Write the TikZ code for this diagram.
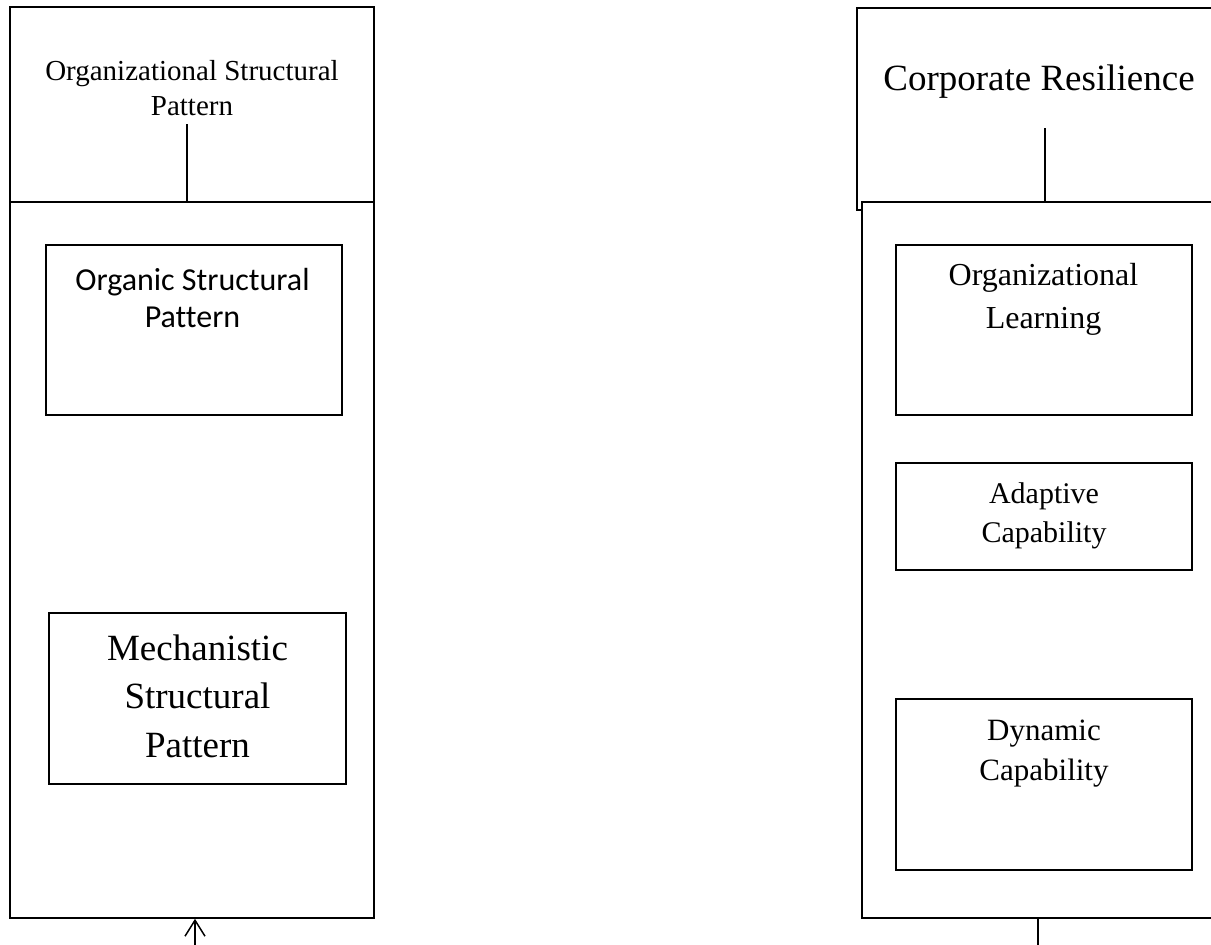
\documentclass[tikz,border=0pt]{standalone}
\usepackage{fontspec}
\setmainfont{Liberation Serif}
\newfontfamily\calfont[Ligatures=NoCommon]{Carlito}
\usetikzlibrary{arrows.meta}
\tikzset{
  box/.style={draw, line width=1.6pt, fill=white, rectangle, inner sep=0pt},
  lbl/.style={anchor=base, align=center, inner sep=0pt},
  conn/.style={line width=1.5pt}
}
\begin{document}
\begin{tikzpicture}[x=1pt,y=-1pt]
\useasboundingbox (0,0) rectangle (1211,945);
\clip (0,0) rectangle (1211,945);
% left column
\node[box, minimum width=364pt, minimum height=195pt] (lefttop) at (192,104.5) {};
\node[box, minimum width=364pt, minimum height=716pt] (leftlow) at (192,560) {};
\node[lbl, font={\fontsize{29}{35}\selectfont}] (ltitle) at (192,115) {Organizational Structural\\Pattern};
\node[box, minimum width=296pt, minimum height=170pt] (organic) at (194,330) {};
\node[lbl, font={\calfont\fontsize{32}{37}\selectfont}] (organict) at (192.5,327) {Organic Structural\\Pattern};
\node[box, minimum width=297pt, minimum height=171pt] (mech) at (197.5,698.5) {};
\node[lbl, font={\fontsize{37}{48.5}\selectfont}] (mecht) at (197.5,757) {Mechanistic\\Structural\\Pattern};
\coordinate (lstart) at (187,124);
\draw[conn] (lstart) -- (lstart |- leftlow.north);
\coordinate (arrL) at (195,945);
\draw[conn, -{Straight Barb[length=16pt,width=20pt,line width=1.5pt]}] (arrL) -- (arrL |- leftlow.south);
% right column
\node[box, minimum width=364pt, minimum height=202pt] (righttop) at (1039,109) {};
\node[box, minimum width=364pt, minimum height=716pt] (rightlow) at (1044,560) {};
\node[lbl, font={\fontsize{37}{44}\selectfont}] (rtitle) at (1039,90) {Corporate Resilience};
\coordinate (rstart) at (1045,128);
\draw[conn] (rstart) -- (rstart |- rightlow.north);
\node[box, minimum width=296pt, minimum height=170pt] (learn) at (1044,330) {};
\node[lbl, font={\fontsize{32}{43}\selectfont}] (learnt) at (1043.5,328) {Organizational\\Learning};
\node[box, minimum width=296pt, minimum height=107pt] (adapt) at (1044,516.5) {};
\node[lbl, font={\fontsize{30}{39}\selectfont}] (adaptt) at (1044,542) {Adaptive\\Capability};
\node[box, minimum width=296pt, minimum height=171pt] (dyn) at (1044,784.5) {};
\node[lbl, font={\fontsize{31}{40}\selectfont}] (dynt) at (1044,780) {Dynamic\\Capability};
\coordinate (rend) at (1038,945);
\draw[conn] (rend |- rightlow.south) -- (rend);
\end{tikzpicture}
\end{document}
